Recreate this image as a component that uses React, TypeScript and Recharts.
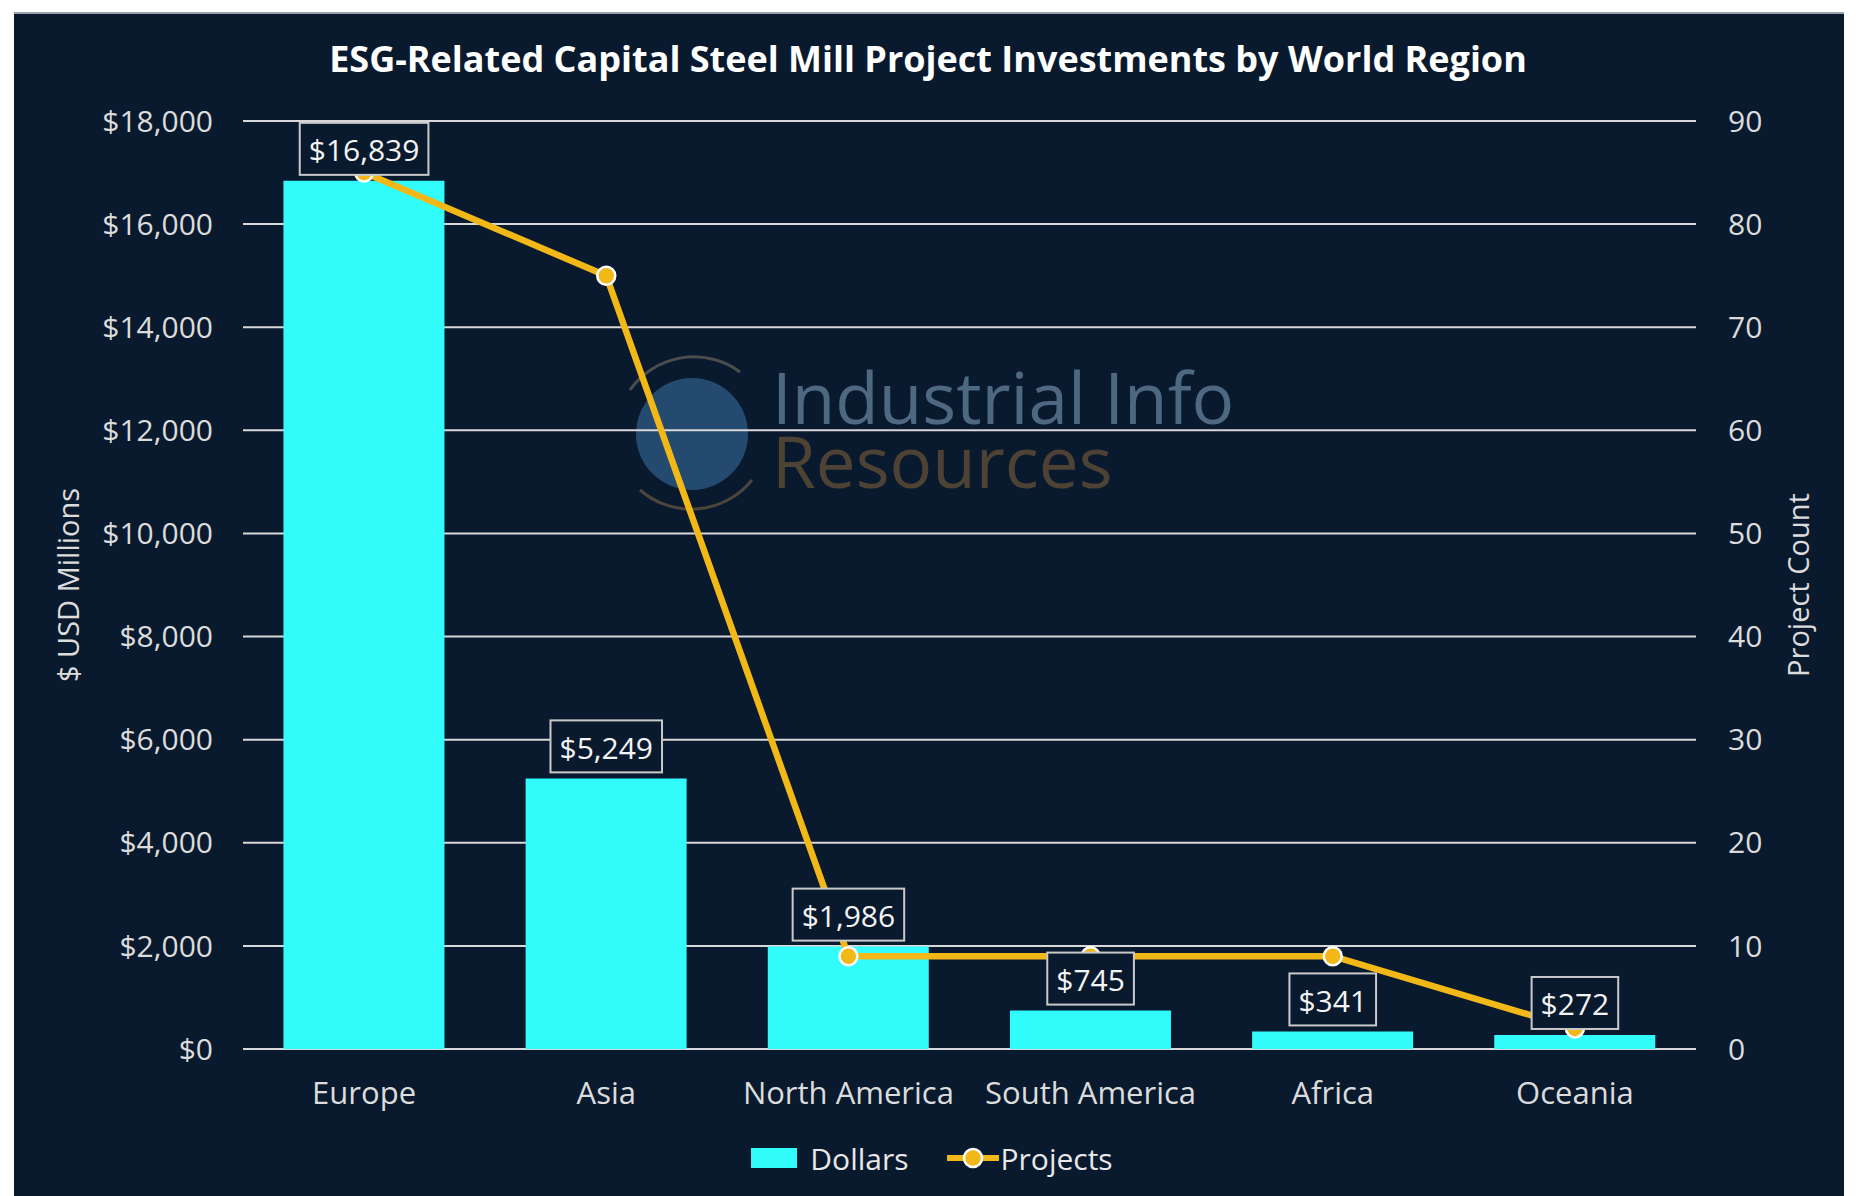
import React from 'react';
import { ComposedChart, Bar, Line, XAxis, YAxis, CartesianGrid, Legend, LabelList } from 'recharts';

// values
const regions = ['Europe', 'Asia', 'North America', 'South America', 'Africa', 'Oceania'];
const dollars = [16839, 5249, 1986, 745, 341, 272];
const projects = [85, 75, 9, 9, 9, 2];
const dollarTicks = [0, 2000, 4000, 6000, 8000, 10000, 12000, 14000, 16000, 18000];
const countTicks = [0, 10, 20, 30, 40, 50, 60, 70, 80, 90];

const data = regions.map((region, i) => ({ region, dollars: dollars[i], projects: projects[i] }));

const BG = '#0a1a2e';
const CYAN = '#31fbfb';
const GOLD = '#f2b818';
const FONT = '"Open Sans", "Noto Sans", sans-serif';
const TICK = '#dcdcdc';

const fmtDollar = (v: number) => '$' + v.toLocaleString('en-US');

let ctx: CanvasRenderingContext2D | null = null;
function textWidth(text: string, size: number) {
  if (!ctx && typeof document !== 'undefined') ctx = document.createElement('canvas').getContext('2d');
  if (!ctx) return text.length * size * 0.57;
  ctx.font = `${size}px "Open Sans"`;
  return ctx.measureText(text).width;
}

// boxed value label above each bar
function BoxLabel(props: any) {
  const { x, y, value } = props;
  const text = fmtDollar(Number(value));
  const w = textWidth(text, 30) + 18;
  const h = 52;
  const bottom = y - 6;
  return (
    <g>
      <rect x={x - w / 2} y={bottom - h} width={w} height={h} fill={BG} stroke="#c9c9c9" strokeWidth={2} />
      <text x={x} y={bottom - h / 2 + 1} textAnchor="middle" dominantBaseline="central" fill="#f4f4f4" fontSize={30} fontFamily={FONT}>
        {text}
      </text>
    </g>
  );
}

function LegendContent() {
  return (
    <div style={{ display: 'flex', justifyContent: 'center', alignItems: 'center', height: 40, paddingLeft: 8, fontFamily: FONT, fontSize: 30, color: '#e8e8e8' }}>
      <div style={{ display: 'flex', alignItems: 'center', marginRight: 38 }}>
        <span style={{ display: 'inline-block', width: 46, height: 20, background: CYAN, marginRight: 13 }} />
        Dollars
      </div>
      <div style={{ display: 'flex', alignItems: 'center' }}>
        <svg width={52} height={26} style={{ marginRight: 2 }}>
          <line x1={0} y1={13} x2={52} y2={13} stroke={GOLD} strokeWidth={6} />
          <circle cx={26} cy={13} r={9} fill={GOLD} stroke="#fff" strokeWidth={2.5} />
        </svg>
        Projects
      </div>
    </div>
  );
}

export default function App() {
  return (
    <div style={{ position: 'absolute', left: 0, top: 0, width: 1856, height: 1196, background: '#ffffff', overflow: 'hidden' }}>
      <div style={{ position: 'absolute', left: 14, top: 12, width: 1830, height: 1184, background: BG, borderTop: '2px solid #9aa3ad' }} />
      {/* watermark */}
      <svg width={1856} height={1196} style={{ position: 'absolute', left: 0, top: 0 }}>
        <circle cx={692} cy={434} r={56} fill="#2f5b86" opacity={0.75} />
        <path d="M 630 390 A 78 78 0 0 1 740 372" fill="none" stroke="#5c5a55" strokeWidth={3} opacity={0.8} />
        <path d="M 640 490 A 78 78 0 0 0 752 480" fill="none" stroke="#5c5040" strokeWidth={3} opacity={0.8} />
        <text fontSize={71} fontFamily={FONT}>
          <tspan x={772} y={424} fill="#4e6882">Industrial Info</tspan>
          <tspan x={772} y={488} fill="#4d4233">Resources</tspan>
        </text>
      </svg>
      <div style={{ position: 'absolute', left: 0, top: 34, width: 1856, textAlign: 'center', fontFamily: FONT, fontWeight: 700, fontSize: 36, color: '#ffffff' }}>
        ESG-Related Capital Steel Mill Project Investments by World Region
      </div>
      <div style={{ position: 'absolute', left: 0, top: 0 }}>
        <ComposedChart width={1856} height={1196} data={data} margin={{ top: 121, right: 20, left: 20, bottom: 18 }} barCategoryGap="16.7%">
          <CartesianGrid yAxisId="left" vertical={false} stroke="#d8d8d8" strokeWidth={2} />
          <XAxis
            dataKey="region"
            axisLine={false}
            tickLine={false}
            height={89}
            tickMargin={27}
            tick={{ fill: TICK, fontSize: 31, fontFamily: FONT }}
            interval={0}
          />
          <YAxis
            yAxisId="left"
            domain={[0, 18000]}
            ticks={dollarTicks}
            width={223}
            axisLine={false}
            tickLine={false}
            tickMargin={24}
            tickFormatter={fmtDollar}
            tick={{ fill: TICK, fontSize: 30, fontFamily: FONT }}
            label={{
              value: '$ USD Millions',
              content: (p: any) => {
                const vb = p.viewBox;
                const cx = vb.x + 47;
                const cy = vb.y + vb.height / 2;
                return (
                  <text x={cx} y={cy} transform={`rotate(-90 ${cx} ${cy})`} textAnchor="middle" dominantBaseline="central" fill={TICK} fontSize={29} fontFamily={FONT}>
                    $ USD Millions
                  </text>
                );
              },
            }}
          />
          <YAxis
            yAxisId="right"
            orientation="right"
            domain={[0, 90]}
            ticks={countTicks}
            width={140}
            axisLine={false}
            tickLine={false}
            tickMargin={26}
            tick={{ fill: TICK, fontSize: 30, fontFamily: FONT, textAnchor: 'start' }}
            label={{
              value: 'Project Count',
              content: (p: any) => {
                const vb = p.viewBox;
                const cx = vb.x + 101;
                const cy = vb.y + vb.height / 2;
                return (
                  <text x={cx} y={cy} transform={`rotate(-90 ${cx} ${cy})`} textAnchor="middle" dominantBaseline="central" fill={TICK} fontSize={29} fontFamily={FONT}>
                    Project Count
                  </text>
                );
              },
            }}
          />
          <Legend verticalAlign="bottom" content={<LegendContent />} wrapperStyle={{ left: 0, width: 1856 }} />
          <Bar yAxisId="left" dataKey="dollars" name="Dollars" fill={CYAN} isAnimationActive={false} />
          <Line
            yAxisId="right"
            dataKey="projects"
            name="Projects"
            stroke={GOLD}
            strokeWidth={6.5}
            dot={{ r: 9, fill: GOLD, stroke: '#ffffff', strokeWidth: 2.5 }}
            activeDot={false}
            isAnimationActive={false}
          />
          {/* invisible series that carries the boxed dollar labels above the line */}
          <Line yAxisId="left" dataKey="dollars" stroke="none" dot={false} activeDot={false} legendType="none" isAnimationActive={false}>
            <LabelList dataKey="dollars" content={<BoxLabel />} />
          </Line>
        </ComposedChart>
      </div>
    </div>
  );
}
